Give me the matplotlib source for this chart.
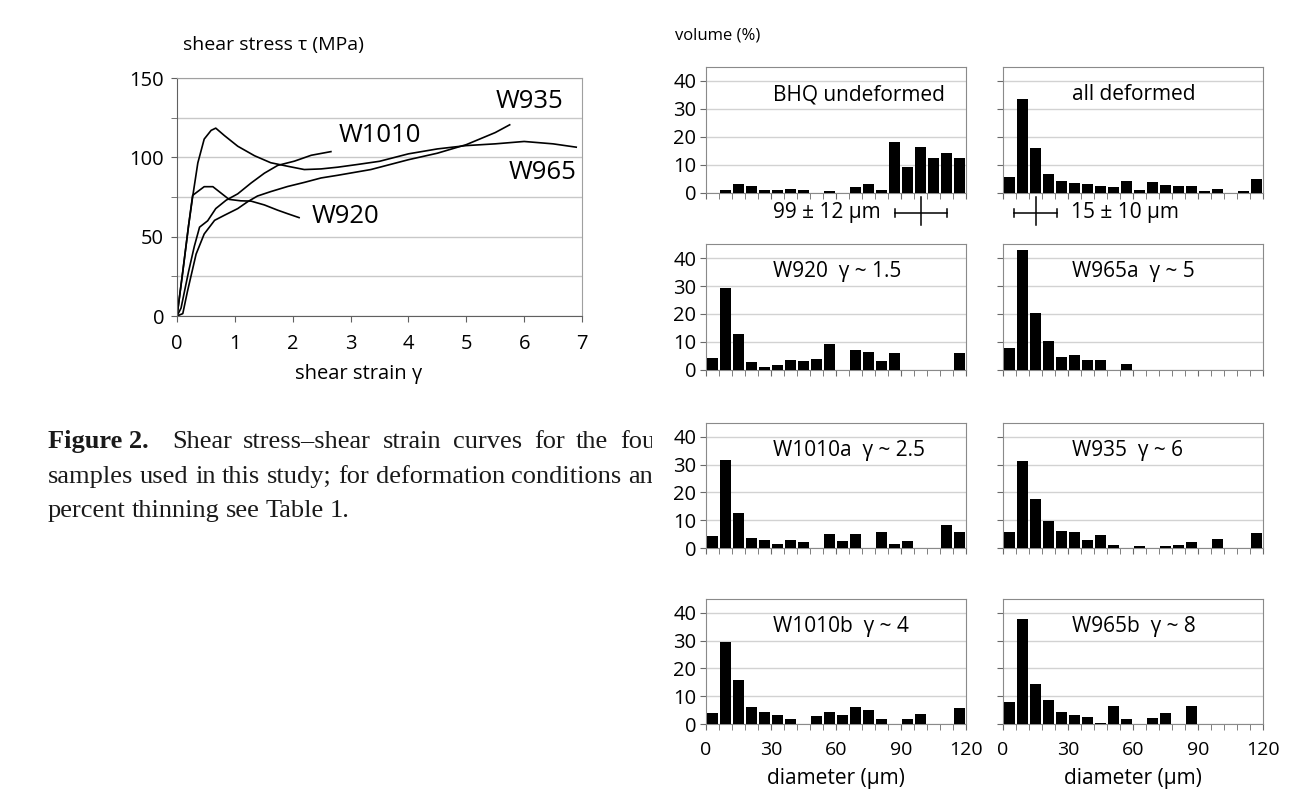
import numpy as np
import matplotlib.pyplot as plt

plt.rcParams['font.family'] = ['Open Sans', 'DejaVu Sans']

# shear stress (MPa) vs shear strain for the four samples
w920_strain = [0, 0.1, 0.2, 0.27, 0.36, 0.47, 0.62, 0.76, 0.9, 1.1, 1.28, 1.51, 1.74, 1.91, 2.11]
w920_stress = [0, 28, 57, 76, 78.5, 81.5, 81.5, 77.5, 73.5, 72.6, 72.4, 70, 66.7, 64.5, 62]

w965_strain = [0, 0.1, 0.2, 0.27, 0.36, 0.47, 0.59, 0.67, 0.82, 1.05, 1.34, 1.62, 1.91,
               2.2, 2.49, 2.78, 3.12, 3.5, 4.0, 4.5, 5.0, 5.5, 6.0, 6.5, 6.9]
w965_stress = [0, 28, 57, 75, 96.5, 111.5, 117, 118.4, 113.7, 107, 101, 96.6, 94.4,
               92.3, 92.7, 93.8, 95.5, 97.5, 102.2, 105.3, 107.4, 108.5, 110, 108.5, 106.4]

w1010_strain = [0, 0.07, 0.2, 0.3, 0.39, 0.53, 0.67, 0.85, 1.05, 1.28, 1.51, 1.74, 2.03, 2.32, 2.66]
w1010_stress = [0, 5, 28, 44, 56, 60, 67.7, 73, 77, 83.8, 90, 94.9, 97.6, 101.3, 103.6]

w935_strain = [0, 0.1, 0.18, 0.33, 0.47, 0.65, 0.82, 1.05, 1.22, 1.39, 1.62, 1.91, 2.2,
               2.49, 2.78, 3.35, 4.0, 4.5, 5.0, 5.5, 5.75]
w935_stress = [0, 1.5, 15.4, 39, 51.7, 60.3, 63.5, 67.7, 72, 75.6, 78.4, 81.6, 84.2,
               87, 88.7, 92.3, 98.5, 102.6, 108, 115.6, 120.5]

# grain size distributions, volume % in 6 um diameter classes (0-120 um)
bin_edges = np.arange(0, 121, 6)
bhq_undeformed = [0, 0.9, 3.1, 2.6, 1.2, 0.9, 1.4, 1.2, 0, 0.6, 0, 2.0, 3.1, 1.2, 18.1, 9.3, 16.3, 12.6, 14.3, 12.4]
all_deformed = [5.7, 33.6, 16.0, 6.9, 4.2, 3.6, 3.1, 2.6, 2.0, 4.2, 1.2, 3.9, 3.0, 2.5, 2.5, 0.8, 1.4, 0, 0.6, 5.0]
w920 = [4.2, 29.2, 13.0, 2.8, 1.0, 1.8, 3.5, 3.2, 3.8, 9.2, 0, 7.1, 6.4, 3.2, 6.0, 0, 0, 0, 0, 6.2]
w965a = [8.0, 42.8, 20.3, 10.3, 4.8, 5.3, 3.4, 3.6, 0, 2.0, 0, 0, 0, 0, 0, 0, 0, 0, 0, 0]
w1010a = [4.4, 31.8, 12.7, 3.6, 3.0, 1.4, 3.0, 2.3, 0, 5.0, 2.6, 5.0, 0, 5.9, 1.4, 2.7, 0, 0, 8.2, 5.9]
w935 = [5.6, 31.4, 17.6, 9.8, 6.3, 5.9, 2.9, 4.7, 1.2, 0, 0.8, 0, 0.8, 1.2, 2.3, 0, 3.3, 0, 0, 5.4]
w1010b = [4.0, 29.4, 15.7, 6.3, 4.5, 3.1, 1.9, 0, 2.8, 4.5, 3.4, 6.0, 5.1, 1.8, 0, 1.8, 3.6, 0, 0, 5.9]
w965b = [7.9, 37.9, 14.5, 8.7, 4.2, 3.3, 2.5, 0.4, 6.4, 1.8, 0, 2.1, 4.0, 0, 6.4, 0, 0, 0, 0, 0]

panel_titles = ["BHQ undeformed", "all deformed",
                "W920  \u03b3 ~ 1.5", "W965a  \u03b3 ~ 5",
                "W1010a  \u03b3 ~ 2.5", "W935  \u03b3 ~ 6",
                "W1010b  \u03b3 ~ 4", "W965b  \u03b3 ~ 8"]
panel_data = [bhq_undeformed, all_deformed, w920, w965a, w1010a, w935, w1010b, w965b]

# mean grain size +- standard deviation (um)
mean_undeformed, sd_undeformed = 99, 12
mean_deformed, sd_deformed = 15, 10

W, H = 1298, 808
fig = plt.figure(figsize=(W / 100, H / 100), dpi=100)


def box(x0, y0, x1, y1):
    # pixel box (top-left origin) -> figure fraction rect
    return [x0 / W, 1 - y1 / H, (x1 - x0) / W, (y1 - y0) / H]


# ---- stress-strain curves ----
ax = fig.add_axes(box(177, 78, 582, 316))
for gx, gy in [(w920_strain, w920_stress), (w965_strain, w965_stress),
               (w1010_strain, w1010_stress), (w935_strain, w935_stress)]:
    ax.plot(gx, gy, color='black', lw=1.2)

ax.set_xlim(0, 7)
ax.set_ylim(0, 150)
ax.set_xticks(range(0, 8))
ax.set_yticks([0, 50, 100, 150])
ax.set_yticks([25, 75, 125], minor=True)
ax.grid(axis='y', which='both', color='#c8c8c8', lw=1.0)
ax.set_axisbelow(True)
for side in ['top', 'right']:
    ax.spines[side].set_color('#a0a0a0')
for side in ['left', 'bottom']:
    ax.spines[side].set_color('#606060')
ax.tick_params(which='both', direction='out', length=4.3, color='#606060', labelsize=14.5, pad=5)
ax.tick_params(axis='x', pad=9)
ax.tick_params(which='minor', labelleft=False)

ax.text(6.09, 135, "W935", fontsize=18.5, ha='center', va='center')
ax.text(3.5, 113.5, "W1010", fontsize=18.5, ha='center', va='center')
ax.text(6.31, 90.4, "W965", fontsize=18.5, ha='center', va='center')
ax.text(2.91, 63, "W920", fontsize=18.5, ha='center', va='center')

fig.text(183 / W, 1 - 45 / H, "shear stress \u03c4 (MPa)", fontsize=14, ha='left', va='center')
fig.text(359 / W, 1 - 374 / H, "shear strain \u03b3", fontsize=14.5, ha='center', va='center')

# ---- grain size histograms ----
col_x = [(706, 966), (1003, 1263)]
row_y = [(67, 193), (244, 370), (423, 548), (599, 724)]
centers = (bin_edges[:-1] + bin_edges[1:]) / 2

hist_axes = []
for i, (title, vals) in enumerate(zip(panel_titles, panel_data)):
    r, c = divmod(i, 2)
    hx = fig.add_axes(box(col_x[c][0], row_y[r][0], col_x[c][1], row_y[r][1]))
    hx.bar(centers, vals, width=4.7, color='black', zorder=3)
    hx.set_xlim(0, 120)
    hx.set_ylim(0, 45)
    hx.set_yticks([0, 10, 20, 30, 40])
    hx.set_xticks([0, 30, 60, 90, 120])
    hx.set_xticks(bin_edges, minor=True)
    hx.grid(axis='y', color='#d2d2d2', lw=1.0)
    hx.set_axisbelow(True)
    for s in hx.spines.values():
        s.set_color('#8a8a8a')
    hx.tick_params(which='both', direction='out', length=4, color='#6a6a6a',
                   labelsize=14.5, pad=3)
    hx.tick_params(axis='x', labelsize=14, pad=8)
    if c == 1:
        hx.tick_params(labelleft=False)
    if r < 3:
        hx.tick_params(labelbottom=False)
    else:
        hx.set_xlabel("diameter (\u00b5m)", fontsize=15, labelpad=7)
    hx.text(31 if c == 0 else 32, 35, title, fontsize=15, ha='left', va='center')
    hist_axes.append(hx)

# mean +- sd markers under the first row
def mean_bar(hx, mean, sd):
    y = -7.1
    hx.plot([mean - sd, mean + sd], [y, y], color='black', lw=1.1, clip_on=False)
    for xe in (mean - sd, mean + sd):
        hx.plot([xe, xe], [y - 1.4, y + 1.4], color='black', lw=1.1, clip_on=False)
    hx.plot([mean, mean], [-1.6, -11.6], color='black', lw=1.1, clip_on=False)


mean_bar(hist_axes[0], mean_undeformed, sd_undeformed)
hist_axes[0].text(80.5, -7.1, f"{mean_undeformed} \u00b1 {sd_undeformed} \u00b5m",
                  fontsize=15, ha='right', va='center')
mean_bar(hist_axes[1], mean_deformed, sd_deformed)
hist_axes[1].text(31.5, -7.1, f"{mean_deformed} \u00b1 {sd_deformed} \u00b5m",
                  fontsize=15, ha='left', va='center')

fig.text(675 / W, 1 - 35 / H, "volume (%)", fontsize=12, ha='left', va='center')

# ---- caption, justified and cut at the right edge of its column ----
cap = fig.add_axes([0, 0, 652 / W, 1])
cap.set_xlim(0, 652)
cap.set_ylim(H, 0)
cap.axis('off')

caption_lines = [
    ([("Figure 2.", 'bold'), ("", 'normal'), ("Shear", 'normal'), ("stress\u2013shear", 'normal'),
      ("strain", 'normal'), ("curves", 'normal'), ("for", 'normal'), ("the", 'normal'),
      ("four", 'normal')], 448, 664),
    ([(w, 'normal') for w in "samples used in this study; for deformation conditions and".split()], 483, 666),
    ([(w, 'normal') for w in "percent thinning see Table 1.".split()], 517, None),
]
renderer = fig.canvas.get_renderer()
for words, ypos, right in caption_lines:
    texts = [cap.text(0, ypos, w, fontsize=19, family='Liberation Serif', weight=wt,
                      color='#1a1a1a', ha='left', va='baseline', clip_on=True)
             for w, wt in words]
    widths = [t.get_window_extent(renderer).width for t in texts]
    if right is None:
        gap = 6.0
    else:
        gap = (right - 48 - sum(widths)) / (len(words) - 1)
    x = 48
    for t, wd in zip(texts, widths):
        t.set_x(x)
        x += wd + gap

fig.savefig("out.png", dpi=100)
